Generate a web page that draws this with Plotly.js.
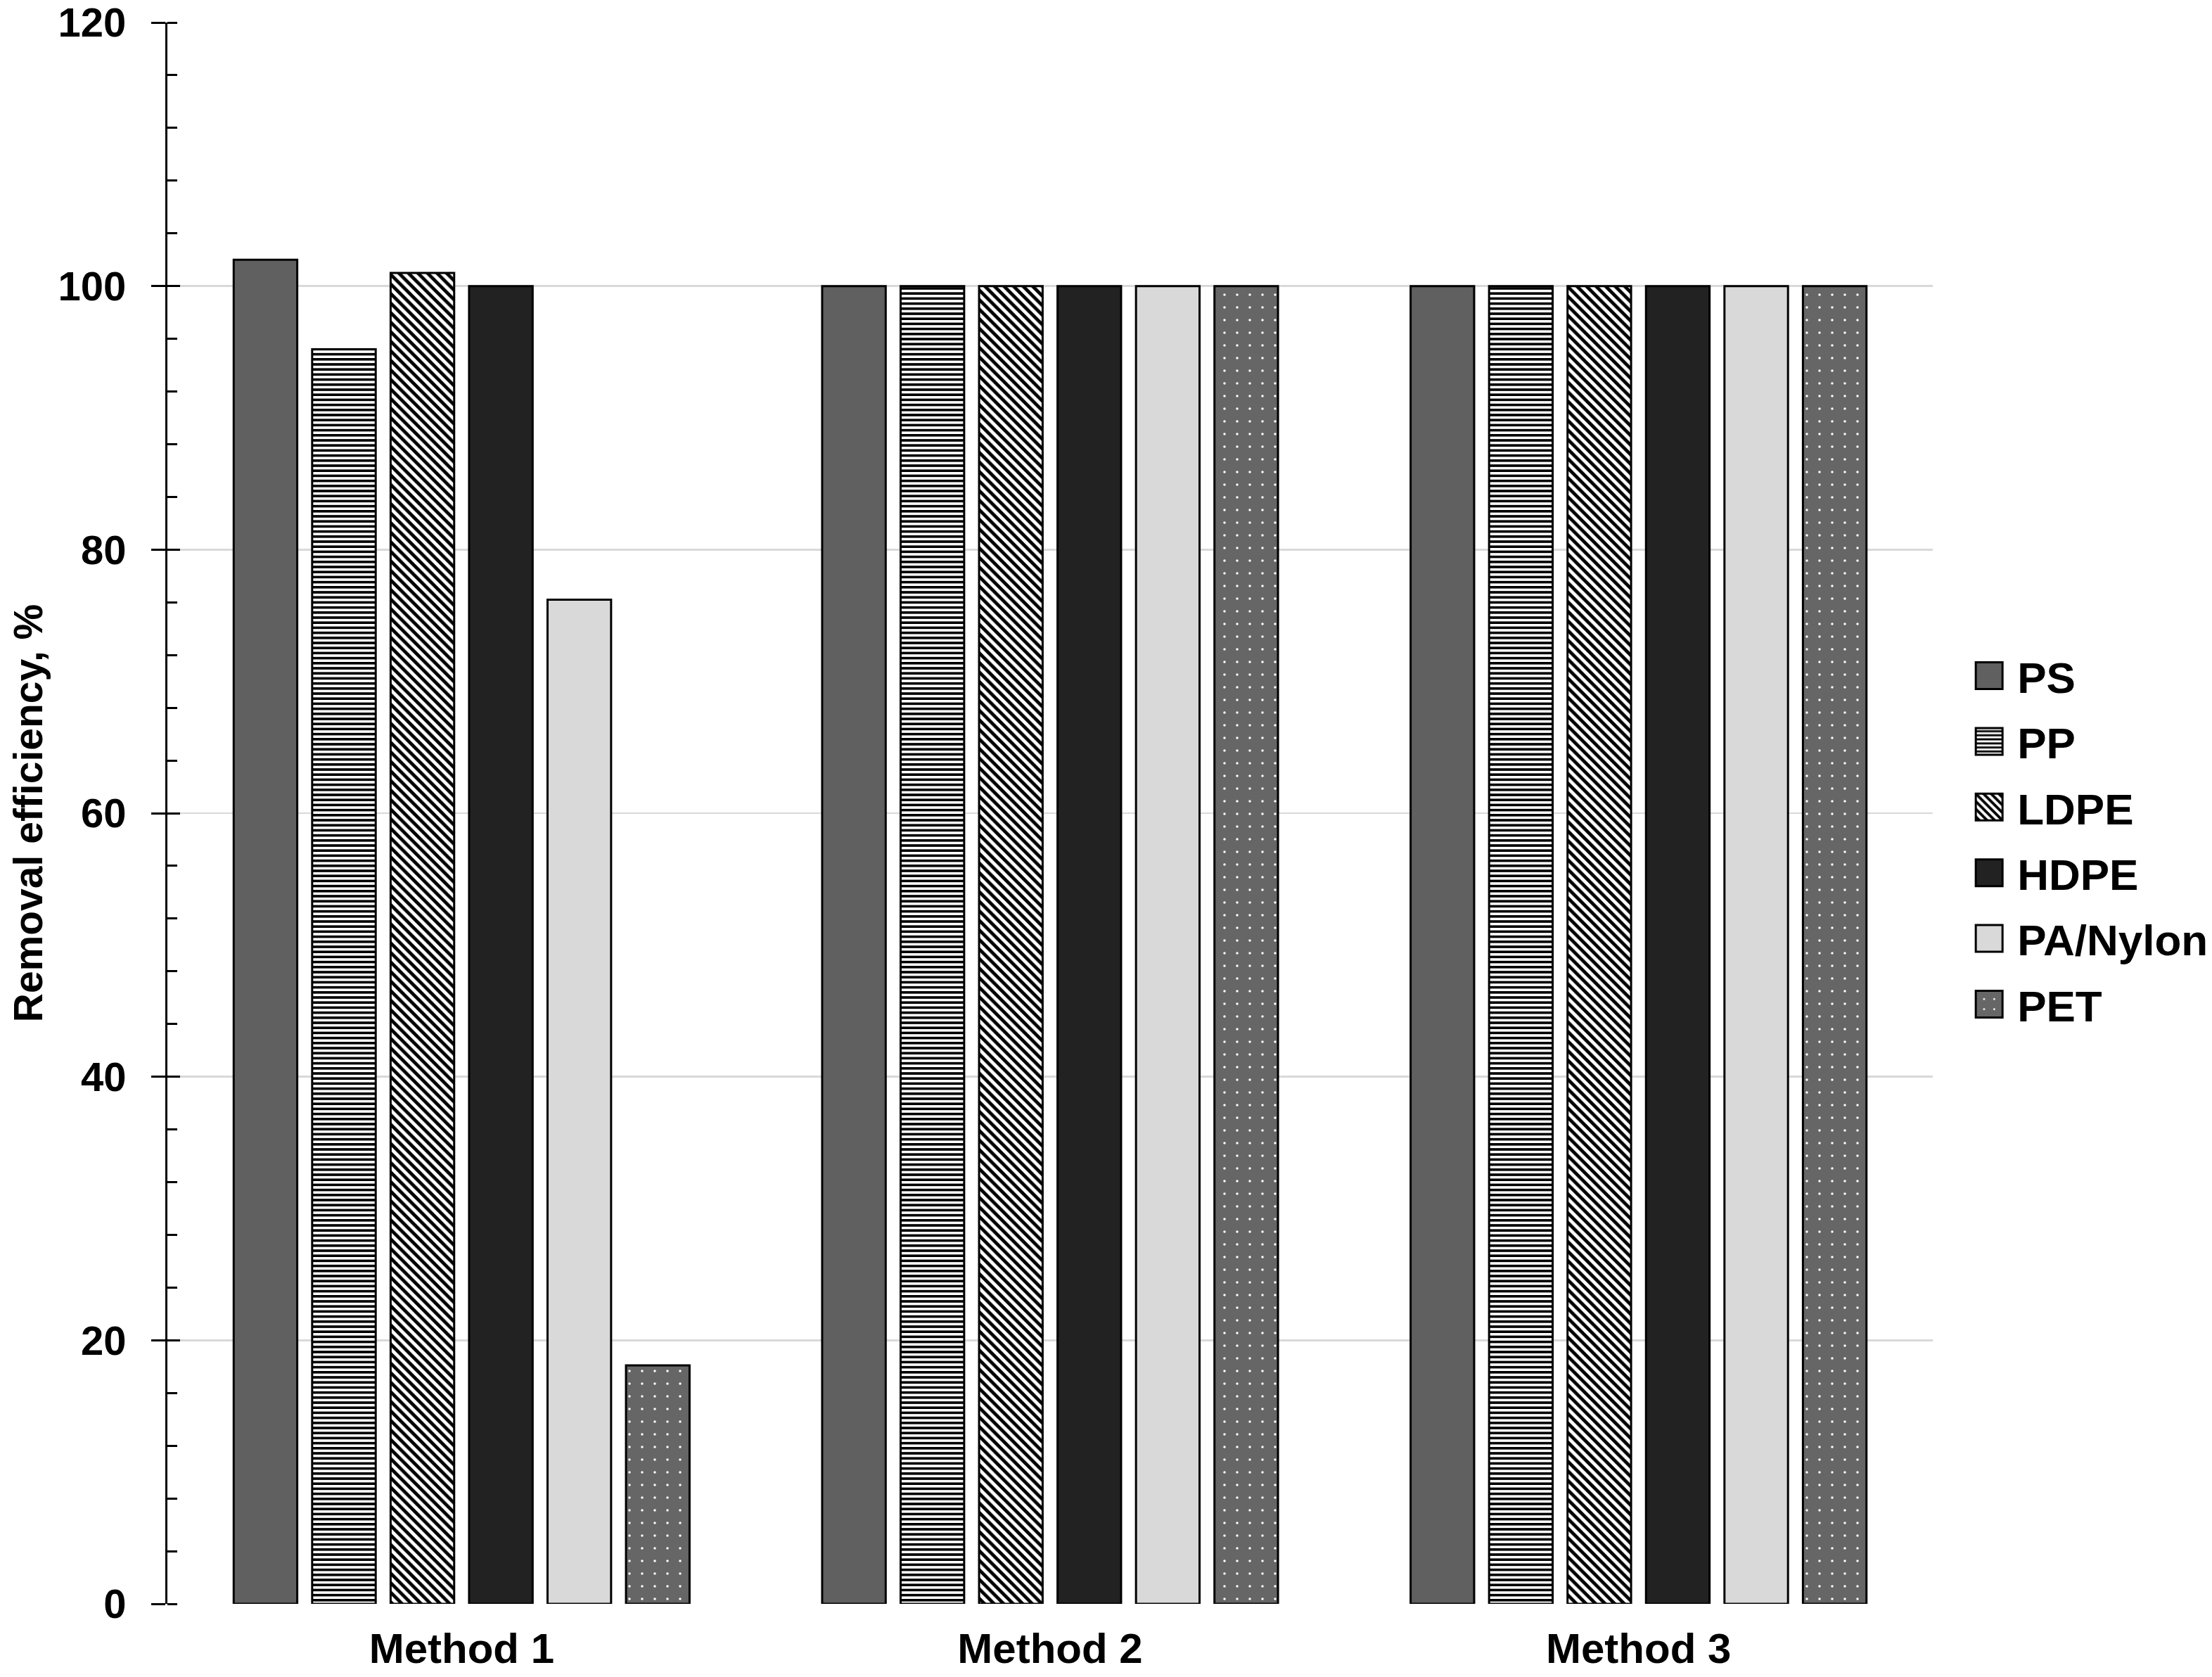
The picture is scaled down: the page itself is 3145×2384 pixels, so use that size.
<!DOCTYPE html>
<html>
<head>
<meta charset="utf-8">
<script src="https://cdn.plot.ly/plotly-3.0.1.min.js"></script>
<style>
  html, body { margin: 0; padding: 0; background: #fff; width: 3145px; height: 2384px; }
  #wrap { width: 3145px; height: 2384px; position: relative; }
  /* drawn at half size and scaled up */
  #chart { position: absolute; left: 0; top: 0; width: 1572px; height: 1192px; transform: scale(2); transform-origin: 0 0; }
</style>
</head>
<body>
<div id="wrap"><div id="chart"></div></div>
<script>
// categories
var methods = ['Method 1', 'Method 2', 'Method 3'];

// removal efficiency per polymer (%)
var psValues   = [102, 100, 100];
var ppValues   = [95.2, 100, 100];
var ldpeValues = [101, 100, 100];
var hdpeValues = [100, 100, 100];
var paValues   = [76.2, 100, 100];
var petValues  = [18.1, 100, 100];

var yTicks = [0, 20, 40, 60, 80, 100, 120];

var fontFam = 'Liberation Sans, Arial, sans-serif';
var outline = { color: '#000', width: 1.5 };

// one trace per polymer
function makeBar(name, values, color, pattern) {
    var marker = { color: color, line: outline };
    if (pattern) marker.pattern = pattern;
    return {
        type: 'bar',
        name: name,
        x: methods,
        y: values,
        marker: marker,
        legendgroup: name
    };
}

var traces = [
    makeBar('PS', psValues, '#606060'),
    makeBar('PP', ppValues, '#ffffff', { shape: '-', fgcolor: '#000', bgcolor: '#fff', size: 3.6, solidity: 0.5 }),
    makeBar('LDPE', ldpeValues, '#ffffff', { shape: '\\', fgcolor: '#000', bgcolor: '#fff', size: 4.8, solidity: 0.5 }),
    makeBar('HDPE', hdpeValues, '#222222'),
    makeBar('PA/Nylon', paValues, '#d9d9d9'),
    makeBar('PET', petValues, '#666666', { shape: '.', fgcolor: '#ffffff', bgcolor: '#666666', size: 9, solidity: 0.03 })
];

// invisible helper trace on the overlay axis so the inside half of the major ticks is drawn
traces.push({
    type: 'scatter', x: [methods[0]], y: [0], yaxis: 'y2',
    mode: 'markers', marker: { opacity: 0 }, showlegend: false, hoverinfo: 'skip'
});

var layout = {
    width: 1572,
    height: 1192,
    margin: { l: 119, r: 198, t: 16, b: 52, autoexpand: false },
    paper_bgcolor: '#fff',
    plot_bgcolor: '#fff',
    barmode: 'group',
    bargap: 0.2,
    bargroupgap: 0.19,
    font: { family: fontFam, color: '#000', size: 24, weight: 700 },
    xaxis: {
        type: 'category',
        showline: false,
        ticks: '',
        zeroline: false,
        ticklabelstandoff: 11,
        tickfont: { family: fontFam, size: 30, weight: 700, color: '#000' }
    },
    yaxis: {
        range: [0, 120],
        tickvals: yTicks,
        ticks: 'outside',
        ticklen: 10,
        tickwidth: 1.5,
        tickcolor: '#000',
        ticklabelstandoff: 12,
        showline: true,
        linecolor: '#000',
        linewidth: 1.5,
        showgrid: true,
        gridcolor: '#d9d9d9',
        gridwidth: 1.2,
        zeroline: false,
        minor: { dtick: 4, ticks: 'inside', ticklen: 7, tickwidth: 1.5, tickcolor: '#000', showgrid: false },
        tickfont: { family: fontFam, size: 29, weight: 700, color: '#000' },
        title: { text: 'Removal efficiency, %', font: { family: fontFam, size: 28.5, weight: 700, color: '#000' }, standoff: 2 }
    },
    yaxis2: {
        overlaying: 'y',
        matches: 'y',
        side: 'left',
        tickvals: yTicks,
        ticks: 'inside',
        ticklen: 9,
        tickwidth: 1.5,
        tickcolor: '#000',
        showticklabels: false,
        showgrid: false,
        showline: false,
        zeroline: false
    },
    legend: {
        x: 1.016,
        xanchor: 'left',
        y: 0.483,
        yanchor: 'middle',
        tracegroupgap: 3.4,
        font: { family: fontFam, size: 31, weight: 700, color: '#000' },
        bgcolor: 'rgba(0,0,0,0)'
    },
    showlegend: true
};

Plotly.newPlot('chart', traces, layout, { staticPlot: true, displayModeBar: false }).then(function (gd) {
    // bigger legend swatches, as in the original
    gd.querySelectorAll('.legendpoints path').forEach(function (p) {
        p.setAttribute('d', 'M9.5,9.5H-9.5V-9.5H9.5Z');
    });
});
</script>
</body>
</html>
